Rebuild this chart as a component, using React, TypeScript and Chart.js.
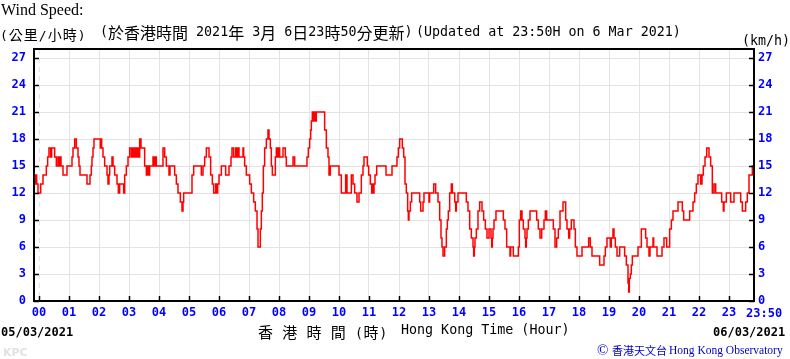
import React, { useEffect, useRef } from "react";
import { Chart, registerables } from "chart.js";

Chart.register(...registerables);

// Time of each reading, hours after 00:00 of 05/03/2021 (step starts here)
const times: number[] = [
  -0.167, -0.11, -0.078, -0.033, 0.056, 0.133, 0.244, 0.289, 0.333, 0.389,
  0.422, 0.522, 0.578, 0.633, 0.667, 0.7, 0.733, 0.8, 0.933, 1.1,
  1.133, 1.189, 1.244, 1.3, 1.333, 1.367, 1.6, 1.7, 1.744, 1.767,
  1.8, 1.833, 2.044, 2.067, 2.089, 2.133, 2.189, 2.267, 2.3, 2.333,
  2.356, 2.433, 2.467, 2.522, 2.6, 2.644, 2.689, 2.822, 2.856, 2.911,
  2.967, 3.022, 3.078, 3.111, 3.144, 3.178, 3.222, 3.267, 3.311, 3.356,
  3.4, 3.522, 3.578, 3.611, 3.644, 3.689, 3.8, 3.833, 3.867, 3.911,
  4.133, 4.189, 4.244, 4.333, 4.367, 4.522, 4.578, 4.633, 4.711, 4.767,
  4.8, 4.822, 5.1, 5.156, 5.411, 5.467, 5.522, 5.578, 5.667, 5.722,
  5.778, 5.822, 5.889, 5.922, 5.956, 6.0, 6.078, 6.222, 6.333, 6.4,
  6.433, 6.489, 6.556, 6.6, 6.633, 6.667, 6.8, 6.822, 6.856, 6.911,
  7.022, 7.078, 7.156, 7.211, 7.267, 7.3, 7.378, 7.411, 7.444, 7.478,
  7.522, 7.578, 7.633, 7.667, 7.711, 7.744, 7.778, 7.878, 7.911, 7.956,
  7.989, 8.022, 8.133, 8.211, 8.244, 8.467, 8.522, 8.933, 8.978, 9.022,
  9.056, 9.078, 9.111, 9.144, 9.178, 9.211, 9.244, 9.522, 9.578, 9.633,
  9.667, 9.711, 10.0, 10.078, 10.222, 10.267, 10.411, 10.467, 10.522, 10.6,
  10.667, 10.744, 10.8, 10.833, 10.944, 10.989, 11.044, 11.089, 11.122, 11.144,
  11.167, 11.2, 11.256, 11.567, 11.767, 11.933, 11.978, 12.022, 12.111, 12.156,
  12.2, 12.244, 12.289, 12.311, 12.333, 12.378, 12.422, 12.689, 12.722, 12.8,
  12.833, 13.0, 13.022, 13.156, 13.222, 13.3, 13.356, 13.4, 13.433, 13.467,
  13.522, 13.578, 13.611, 13.644, 13.689, 13.744, 13.778, 13.856, 13.889, 13.911,
  13.967, 14.244, 14.3, 14.356, 14.411, 14.467, 14.489, 14.511, 14.533, 14.578,
  14.633, 14.689, 14.767, 14.822, 14.878, 14.933, 15.0, 15.067, 15.089, 15.111,
  15.133, 15.167, 15.233, 15.478, 15.533, 15.589, 15.7, 15.722, 15.811, 15.978,
  16.011, 16.056, 16.1, 16.144, 16.2, 16.222, 16.244, 16.267, 16.311, 16.367,
  16.589, 16.644, 16.7, 16.756, 16.833, 16.878, 16.922, 17.144, 17.2, 17.256,
  17.311, 17.367, 17.467, 17.556, 17.6, 17.656, 17.689, 17.744, 17.833, 17.878,
  17.933, 18.1, 18.322, 18.378, 18.433, 18.689, 18.833, 18.878, 18.933, 19.044,
  19.078, 19.133, 19.167, 19.211, 19.267, 19.356, 19.522, 19.578, 19.633, 19.656,
  19.678, 19.711, 19.744, 19.778, 19.967, 20.078, 20.222, 20.267, 20.333, 20.367,
  20.467, 20.489, 20.6, 20.767, 20.833, 20.922, 21.022, 21.078, 21.133, 21.3,
  21.444, 21.489, 21.689, 21.8, 21.856, 21.911, 21.967, 22.056, 22.1, 22.144,
  22.2, 22.256, 22.333, 22.389, 22.444, 22.5, 22.556, 22.756, 22.811, 22.833,
  22.911, 23.056, 23.167, 23.389, 23.444, 23.556, 23.611, 23.667, 23.778, 23.833,
];

// Wind speed (km/h) at each of the times above
const speeds: number[] = [
  13, 14, 13, 12, 13, 14, 15, 16, 17, 16,
  17, 16, 15, 16, 15, 16, 15, 14, 15, 16,
  17, 18, 17, 16, 15, 14, 13, 14, 15, 16,
  17, 18, 17, 18, 17, 16, 15, 14, 13, 14,
  15, 16, 15, 14, 13, 12, 13, 12, 14, 15,
  16, 17, 16, 17, 16, 17, 16, 17, 16, 18,
  17, 15, 14, 15, 14, 15, 16, 15, 16, 15,
  17, 16, 15, 14, 15, 14, 13, 12, 11, 10,
  11, 12, 14, 15, 14, 15, 16, 17, 16, 14,
  13, 12, 13, 12, 13, 14, 15, 14, 15, 16,
  17, 16, 17, 16, 17, 16, 17, 16, 15, 14,
  13, 12, 11, 10, 8, 6, 8, 10, 12, 15,
  17, 18, 19, 18, 17, 15, 14, 16, 17, 16,
  17, 16, 17, 16, 15, 16, 15, 16, 17, 18,
  19, 20, 21, 20, 21, 20, 21, 19, 17, 16,
  14, 15, 14, 12, 14, 12, 14, 13, 12, 11,
  12, 14, 15, 16, 15, 14, 13, 12, 13, 12,
  13, 14, 15, 14, 15, 16, 17, 18, 17, 16,
  13, 12, 10, 9, 10, 11, 12, 11, 10, 11,
  12, 11, 12, 13, 12, 11, 9, 7, 6, 5,
  6, 8, 9, 10, 12, 13, 12, 11, 10, 11,
  12, 11, 10, 8, 7, 6, 5, 6, 7, 8,
  10, 11, 10, 9, 8, 7, 8, 7, 6, 7,
  8, 9, 10, 9, 8, 6, 5, 6, 5, 6,
  9, 10, 9, 8, 7, 6, 7, 8, 9, 10,
  9, 8, 7, 8, 9, 10, 9, 8, 6, 7,
  8, 10, 11, 9, 8, 7, 8, 9, 8, 6,
  5, 6, 7, 6, 5, 4, 5, 6, 7, 6,
  7, 8, 7, 6, 5, 6, 5, 4, 2, 1,
  2.5, 3, 4, 5, 6, 8, 7, 6, 5, 6,
  7, 6, 5, 6, 7, 6, 8, 9, 10, 11,
  10, 9, 10, 11, 12, 13, 14, 13, 14, 15,
  16, 17, 16, 15, 12, 13, 12, 11, 10, 11,
  12, 11, 12, 11, 10, 11, 12, 14, 15, 15,
];

const yTicks: number[] = [0, 3, 6, 9, 12, 15, 18, 21, 24, 27];
const hourTicks: number[] = [0, 1, 2, 3, 4, 5, 6, 7, 8, 9, 10, 11, 12, 13, 14, 15, 16, 17, 18, 19, 20, 21, 22, 23];
const hourLabels: string[] = ["00", "01", "02", "03", "04", "05", "06", "07", "08", "09", "10", "11", "12", "13", "14", "15", "16", "17", "18", "19", "20", "21", "22", "23"];
const endLabel = "23:50";
const xMin = -10 / 60;
const xMax = 23 + 50 / 60;
const yMax = 28;

const titleText = "Wind Speed:";
const unitCn = "(公里/小時)";
const updateCn = "(於香港時間 2021年 3月 6日23時50分更新)";
const updateEn = "(Updated at 23:50H on 6 Mar 2021)";
const unitEn = "(km/h)";
const axisCn = "香 港 時 間 (時)";
const axisEn = "Hong Kong Time (Hour)";
const startDate = "05/03/2021";
const endDate = "06/03/2021";
const creditCn = "香港天文台";
const creditEn = "Hong Kong Observatory";

const MONO = '"DejaVu Sans Mono", monospace';
const CJK = '"Noto Sans CJK TC", "Noto Sans CJK SC", sans-serif';
const BLUE = "#0000ff";

function Mixed(props: { text: string; latin: number; cjk: number; shift?: number; left: number; top: number; spacing?: number; color?: string }) {
  const runs: { t: string; c: boolean }[] = [];
  for (const ch of props.text) {
    const c = /[\u3000-\u9fff\uff00-\uffef]/.test(ch);
    if (runs.length && runs[runs.length - 1].c === c) runs[runs.length - 1].t += ch;
    else runs.push({ t: ch, c });
  }
  return (
    <div
      style={{
        position: "absolute",
        left: props.left,
        top: props.top,
        whiteSpace: "pre",
        fontFamily: MONO,
        fontSize: props.latin,
        lineHeight: "16px",
        letterSpacing: props.spacing ?? 0,
        color: props.color ?? "#000",
      }}
    >
      {runs.map((r, i) => (
        <span
          key={i}
          style={
            r.c
              ? { fontFamily: CJK, fontSize: props.cjk, lineHeight: 0, position: "relative", top: props.shift ?? 0 }
              : {}
          }
        >
          {r.t}
        </span>
      ))}
    </div>
  );
}

const framePlugin = {
  id: "frame",
  afterDatasetsDraw(chart: any) {
    const { ctx, chartArea, scales } = chart;
    const { left, right, top, bottom } = chartArea;
    ctx.save();
    ctx.strokeStyle = "#000";
    ctx.lineWidth = 1.5;
    ctx.beginPath();
    yTicks.forEach((v) => {
      const y = Math.round(scales.y.getPixelForValue(v)) + 0.5;
      ctx.moveTo(left, y);
      ctx.lineTo(left + 5, y);
      ctx.moveTo(right - 5, y);
      ctx.lineTo(right, y);
    });
    hourTicks.forEach((h) => {
      const x = Math.round(scales.x.getPixelForValue(h)) + 0.5;
      ctx.moveTo(x, bottom - 5);
      ctx.lineTo(x, bottom);
    });
    ctx.stroke();
    ctx.lineWidth = 2;
    ctx.strokeRect(left, top, right - left, bottom - top);
    ctx.restore();
  },
};

export default function App() {
  const ref = useRef<HTMLCanvasElement | null>(null);
  useEffect(() => {
    if (!ref.current) return;
    const tickFont = { family: "DejaVu Sans Mono", size: 12, weight: "bold" as const };
    const chart = new Chart(ref.current, {
      type: "line",
      data: {
        datasets: [
          {
            data: times.map((t, i) => ({ x: t, y: speeds[i] })),
            borderColor: "#ff0000",
            borderWidth: 1.5,
            pointRadius: 0,
            stepped: "before",
            fill: false,
          },
        ],
      },
      options: {
        animation: false,
        responsive: false,
        devicePixelRatio: 1,
        layout: { padding: { top: 49, left: 0, right: 0, bottom: 0 } },
        plugins: { legend: { display: false }, tooltip: { enabled: false } },
        scales: {
          x: {
            type: "linear",
            min: xMin,
            max: xMax,
            afterBuildTicks: (s: any) => {
              s.ticks = hourTicks.map((v) => ({ value: v }));
            },
            afterFit: (s: any) => {
              s.height = 58;
            },
            grid: { color: "#e3e3e3", lineWidth: 1, drawTicks: false },
            border: { display: false, dash: (c: any) => (c.tick && c.tick.value === 0 ? [5, 4] : []) },
            ticks: {
              autoSkip: false,
              maxRotation: 0,
              padding: 5,
              color: BLUE,
              font: tickFont,
              callback: (_v: any, i: number) => hourLabels[i],
            },
          },
          y: {
            min: 0,
            max: yMax,
            position: "left",
            afterBuildTicks: (s: any) => {
              s.ticks = yTicks.map((v) => ({ value: v }));
            },
            afterFit: (s: any) => {
              s.width = 34;
            },
            grid: { color: "#e3e3e3", lineWidth: 1, drawTicks: false },
            border: { display: false },
            ticks: { padding: 8, color: BLUE, font: tickFont, callback: (v: any) => String(v) },
          },
          y2: {
            min: 0,
            max: yMax,
            position: "right",
            afterBuildTicks: (s: any) => {
              s.ticks = yTicks.map((v) => ({ value: v }));
            },
            afterFit: (s: any) => {
              s.width = 36;
            },
            grid: { display: false, drawTicks: false },
            border: { display: false },
            ticks: { padding: 4, color: BLUE, font: tickFont, callback: (v: any) => String(v) },
          },
        },
      },
      plugins: [framePlugin],
    });
    return () => chart.destroy();
  }, []);

  return (
    <div style={{ position: "absolute", left: 0, top: 0, width: 790, height: 359, background: "#fff", overflow: "hidden" }}>
      <canvas ref={ref} width={790} height={359} style={{ position: "absolute", left: 0, top: 0, display: "block" }} />
      <div style={{ position: "absolute", left: 1, top: 1, fontFamily: '"Liberation Serif", serif', fontSize: 16, lineHeight: "18px", whiteSpace: "pre" }}>
        {titleText}
      </div>
      <Mixed text={unitCn} latin={13} cjk={14} left={0} top={28} spacing={1} />
      <Mixed text={updateCn} latin={13.33} cjk={16} shift={3} left={100} top={24} />
      <div style={{ position: "absolute", left: 416, top: 24, fontFamily: MONO, fontSize: 13.33, lineHeight: "16px", whiteSpace: "pre" }}>
        {updateEn}
      </div>
      <div style={{ position: "absolute", left: 742, top: 33, fontFamily: MONO, fontSize: 13.33, lineHeight: "16px", whiteSpace: "pre" }}>
        {unitEn}
      </div>
      <div style={{ position: "absolute", left: 746, top: 306, fontFamily: MONO, fontSize: 12, fontWeight: "bold", lineHeight: "14px", color: BLUE, whiteSpace: "pre" }}>
        {endLabel}
      </div>
      <div style={{ position: "absolute", left: 1, top: 325, fontFamily: MONO, fontSize: 12, fontWeight: "bold", lineHeight: "14px", whiteSpace: "pre" }}>
        {startDate}
      </div>
      <div style={{ position: "absolute", left: 713, top: 325, fontFamily: MONO, fontSize: 12, fontWeight: "bold", lineHeight: "14px", whiteSpace: "pre" }}>
        {endDate}
      </div>
      <Mixed text={axisCn} latin={13.33} cjk={15} left={258} top={326} spacing={0.6} />
      <div style={{ position: "absolute", left: 401, top: 322, fontFamily: MONO, fontSize: 13.33, lineHeight: "16px", whiteSpace: "pre" }}>
        {axisEn}
      </div>
      <div style={{ position: "absolute", left: 3, top: 346, fontFamily: '"DejaVu Sans", sans-serif', fontSize: 11, fontWeight: "bold", lineHeight: "13px", color: "#e2e2e2" }}>
        KPC
      </div>
      <div style={{ position: "absolute", left: 597, top: 342, fontFamily: '"Liberation Serif", serif', fontSize: 15, lineHeight: "16px", color: "#0000cc" }}>
        ©
      </div>
      <div style={{ position: "absolute", left: 612, top: 343, fontFamily: CJK, fontSize: 11, lineHeight: "14px", color: "#0000cc", whiteSpace: "pre" }}>
        {creditCn}
      </div>
      <div style={{ position: "absolute", left: 669, top: 343, fontFamily: '"Liberation Serif", serif', fontSize: 11.5, lineHeight: "14px", color: "#0000cc", whiteSpace: "pre" }}>
        {creditEn}
      </div>
    </div>
  );
}
